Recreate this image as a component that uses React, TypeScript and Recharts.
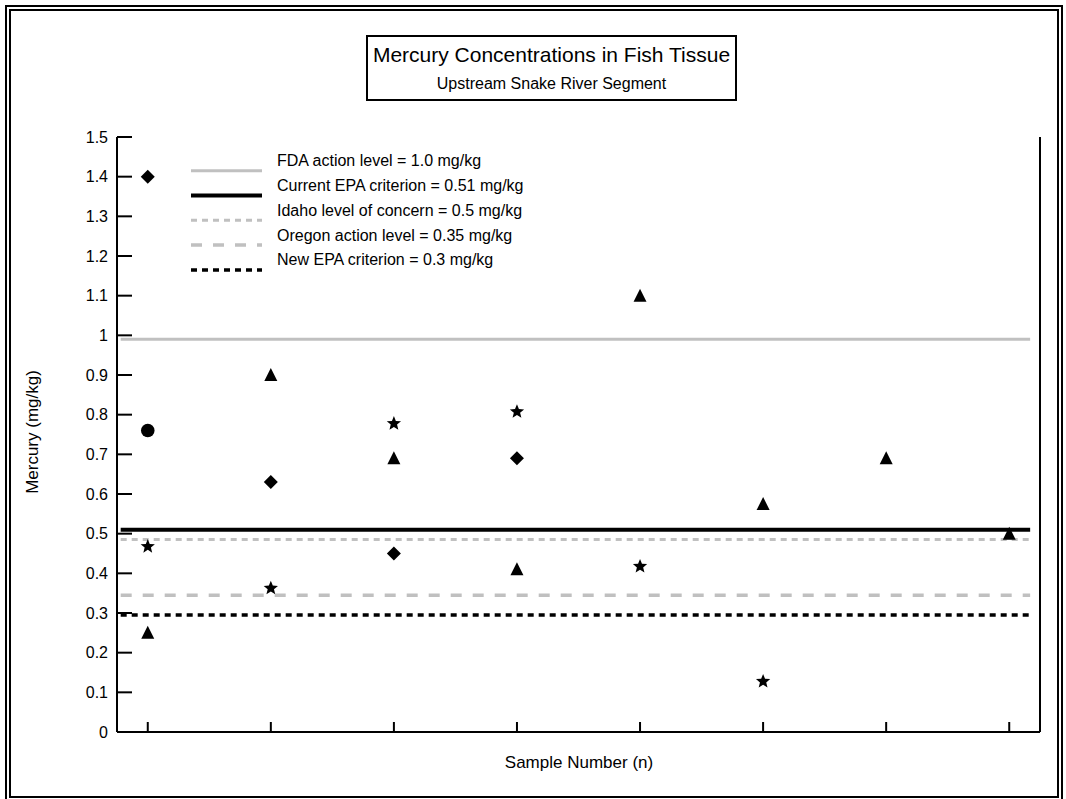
import React from 'react';
import { ScatterChart, Scatter, XAxis, YAxis, ReferenceLine } from 'recharts';

// sample numbers on the x axis
const sampleTicks = [1, 2, 3, 4, 5, 6, 7, 8];

// mercury axis ticks and their labels
const mercuryTicks = [0, 0.1, 0.2, 0.3, 0.4, 0.5, 0.6, 0.7, 0.8, 0.9, 1, 1.1, 1.2, 1.3, 1.4, 1.5];
const mercuryTickLabels = ['0', '0.1', '0.2', '0.3', '0.4', '0.5', '0.6', '0.7', '0.8', '0.9', '1', '1.1', '1.2', '1.3', '1.4', '1.5'];

// fish tissue results, one array pair per marker type
const diamondSamples = [1, 2, 3, 4];
const diamondHg = [1.4, 0.63, 0.45, 0.69];

const triangleSamples = [1, 2, 3, 4, 5, 6, 7, 8];
const triangleHg = [0.25, 0.9, 0.69, 0.41, 1.1, 0.575, 0.69, 0.5];

const starSamples = [1, 2, 3, 4, 5, 6];
const starHg = [0.47, 0.365, 0.78, 0.81, 0.42, 0.13];

const circleSamples = [1];
const circleHg = [0.76];

// guideline levels
const levelNames = [
  'FDA action level = 1.0 mg/kg',
  'Current EPA criterion = 0.51 mg/kg',
  'Idaho level of concern = 0.5 mg/kg',
  'Oregon action level = 0.35 mg/kg',
  'New EPA criterion = 0.3 mg/kg',
];
const levelValues = [0.99, 0.51, 0.485, 0.345, 0.295];

const levelStyles = [
  { stroke: '#c0c0c0', width: 3, dash: undefined as string | undefined },
  { stroke: '#000000', width: 4, dash: undefined as string | undefined },
  { stroke: '#c0c0c0', width: 3, dash: '6 5' },
  { stroke: '#c0c0c0', width: 3.5, dash: '11 11' },
  { stroke: '#000000', width: 3.5, dash: '6 5' },
];

const FONT = '"Liberation Sans", Arial, sans-serif';
const LINE_FROM = 0.78;
const LINE_TO = 8.17;

const toPoints = (xs: number[], ys: number[]) => xs.map((x, i) => ({ x, y: ys[i] }));

const Diamond = (p: any) => {
  const { cx, cy } = p;
  return <polygon points={`${cx},${cy - 7} ${cx + 7},${cy} ${cx},${cy + 7} ${cx - 7},${cy}`} fill="#000" />;
};

const Triangle = (p: any) => {
  const { cx, cy } = p;
  return <polygon points={`${cx},${cy - 7} ${cx + 6.5},${cy + 6} ${cx - 6.5},${cy + 6}`} fill="#000" />;
};

const Star = (p: any) => {
  const { cx, cy } = p;
  const pts: string[] = [];
  for (let i = 0; i < 10; i++) {
    const r = i % 2 === 0 ? 7.5 : 3.3;
    const a = -Math.PI / 2 + (i * Math.PI) / 5;
    pts.push(`${cx + r * Math.cos(a)},${cy + 1 + r * Math.sin(a)}`);
  }
  return <polygon points={pts.join(' ')} fill="#000" />;
};

const Dot = (p: any) => <circle cx={p.cx} cy={p.cy} r={6.8} fill="#000" />;

const YTick = (p: any) => (
  <g>
    <line x1={p.x + 9} x2={p.x + 24} y1={p.y} y2={p.y} stroke="#000" strokeWidth={2} />
    <text x={p.x} y={p.y} dy={5.5} textAnchor="end" fontSize={16} fontFamily={FONT} fill="#000">
      {mercuryTickLabels[p.index]}
    </text>
  </g>
);

const XTick = (p: any) => (
  <line x1={p.x} x2={p.x} y1={p.y} y2={p.y - 10} stroke="#000" strokeWidth={2} />
);

export default function App() {
  return (
    <div style={{ position: 'absolute', left: 0, top: 0, width: 1066, height: 799, overflow: 'hidden', background: '#fff', fontFamily: FONT }}>
      <div style={{ position: 'absolute', left: 5, top: 5, width: 1058, height: 797, boxSizing: 'border-box', border: '6px double #000' }} />
      <ScatterChart width={1066} height={799} margin={{ top: 137, right: 26, bottom: 7, left: 0 }} style={{ position: 'absolute', left: 0, top: 0 }}>
        <XAxis
          type="number"
          dataKey="x"
          domain={[0.75, 8.25]}
          ticks={sampleTicks}
          height={60}
          tickSize={0}
          tickMargin={0}
          tickLine={false}
          tick={<XTick />}
          axisLine={{ stroke: '#000', strokeWidth: 2 }}
          label={{
            content: () => (
              <text x={579} y={768} textAnchor="middle" fontSize={17} fontFamily={FONT} fill="#000">
                Sample Number (n)
              </text>
            ),
          }}
        />
        <YAxis
          type="number"
          dataKey="y"
          domain={[0, 1.5]}
          ticks={mercuryTicks}
          width={117}
          tickSize={0}
          tickMargin={9}
          tickLine={false}
          tick={<YTick />}
          axisLine={{ stroke: '#000', strokeWidth: 2 }}
          label={{
            content: () => (
              <text x={38} y={432} transform="rotate(-90 38 432)" textAnchor="middle" fontSize={17} fontFamily={FONT} fill="#000">
                Mercury (mg/kg)
              </text>
            ),
          }}
        />
        <ReferenceLine x={8.25} stroke="#000" strokeWidth={2} />
        {levelValues.map((v, i) => (
          <ReferenceLine
            key={levelNames[i]}
            segment={[{ x: LINE_FROM, y: v }, { x: LINE_TO, y: v }]}
            stroke={levelStyles[i].stroke}
            strokeWidth={levelStyles[i].width}
            strokeDasharray={levelStyles[i].dash}
          />
        ))}
        <Scatter data={toPoints(diamondSamples, diamondHg)} shape={Diamond} isAnimationActive={false} />
        <Scatter data={toPoints(triangleSamples, triangleHg)} shape={Triangle} isAnimationActive={false} />
        <Scatter data={toPoints(starSamples, starHg)} shape={Star} isAnimationActive={false} />
        <Scatter data={toPoints(circleSamples, circleHg)} shape={Dot} isAnimationActive={false} />
      </ScatterChart>
      <svg width={1066} height={799} style={{ position: 'absolute', left: 0, top: 0, pointerEvents: 'none' }}>
        <rect x={367} y={36} width={369} height={64} fill="#fff" stroke="#000" strokeWidth={2} />
        <text x={551.5} y={62} textAnchor="middle" fontSize={21} fontFamily={FONT} fill="#000">
          Mercury Concentrations in Fish Tissue
        </text>
        <text x={551.5} y={89} textAnchor="middle" fontSize={16} fontFamily={FONT} fill="#000">
          Upstream Snake River Segment
        </text>
        {levelNames.map((name, i) => {
          const y = 170.7 + 24.8 * i;
          return (
            <g key={name}>
              <line x1={191} x2={262} y1={y} y2={y} stroke={levelStyles[i].stroke} strokeWidth={levelStyles[i].width} strokeDasharray={levelStyles[i].dash} />
              <text x={277} y={y - 4.5} fontSize={16} fontFamily={FONT} fill="#000">
                {name}
              </text>
            </g>
          );
        })}
      </svg>
    </div>
  );
}
